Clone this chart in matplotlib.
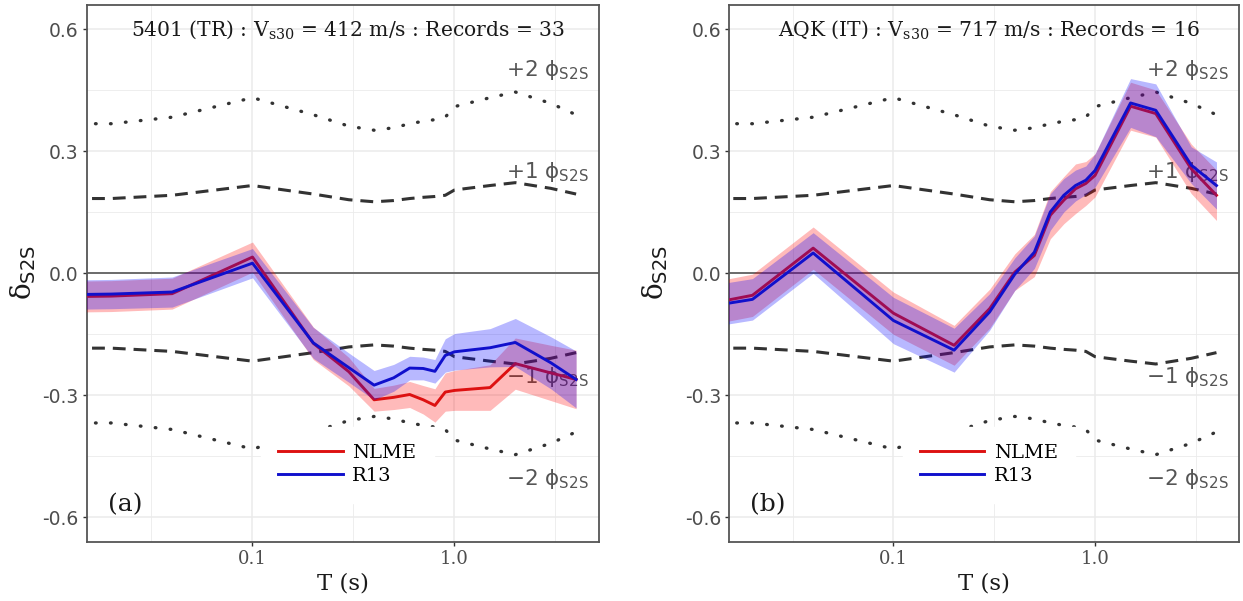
import numpy as np
import matplotlib.pyplot as plt
from matplotlib.ticker import FixedLocator, NullFormatter

# periods (s) and site-to-site standard deviation
periods = [0.01, 0.02, 0.04, 0.1, 0.2, 0.3, 0.4, 0.5, 0.6, 0.7, 0.8, 0.9, 1.0, 1.5, 2.0, 3.0, 4.0]
phi_s2s = [0.184, 0.184, 0.192, 0.216, 0.195, 0.181, 0.176, 0.179, 0.184, 0.187, 0.189, 0.192,
           0.205, 0.216, 0.223, 0.209, 0.195]

# panel (a): station 5401 (TR)
nlme_a = [-0.058, -0.056, -0.050, 0.040, -0.172, -0.242, -0.311, -0.305, -0.298, -0.311, -0.325,
          -0.292, -0.288, -0.281, -0.222, -0.245, -0.261]
nlme_a_se = [0.038, 0.038, 0.038, 0.037, 0.040, 0.035, 0.028, 0.030, 0.032, 0.035, 0.041, 0.047,
             0.049, 0.056, 0.063, 0.068, 0.072]
r13_a = [-0.053, -0.051, -0.046, 0.025, -0.171, -0.232, -0.275, -0.257, -0.233, -0.234, -0.241,
         -0.202, -0.193, -0.183, -0.170, -0.220, -0.261]
r13_a_se = [0.036, 0.036, 0.037, 0.036, 0.038, 0.036, 0.036, 0.033, 0.029, 0.028, 0.029, 0.041,
            0.045, 0.047, 0.059, 0.064, 0.070]

# panel (b): station AQK (IT)
nlme_b = [-0.083, -0.054, 0.062, -0.098, -0.177, -0.087, 0.003, 0.044, 0.143, 0.180, 0.208, 0.221,
          0.241, 0.411, 0.393, 0.257, 0.192]
nlme_b_se = [0.052, 0.052, 0.052, 0.052, 0.049, 0.048, 0.045, 0.052, 0.058, 0.058, 0.061, 0.054,
             0.053, 0.059, 0.058, 0.061, 0.062]
r13_b = [-0.088, -0.064, 0.050, -0.116, -0.189, -0.095, -0.002, 0.052, 0.151, 0.192, 0.216, 0.229,
         0.253, 0.419, 0.401, 0.266, 0.216]
r13_b_se = [0.051, 0.051, 0.050, 0.057, 0.054, 0.045, 0.040, 0.040, 0.045, 0.041, 0.038, 0.035,
            0.041, 0.060, 0.065, 0.045, 0.058]

titles = [r'5401 (TR) : V$_{\mathrm{s30}}$ = 412 m/s : Records = 33',
          r'AQK (IT) : V$_{\mathrm{s30}}$ = 717 m/s : Records = 16']
tags = ['(a)', '(b)']
yticks = [-0.6, -0.3, 0.0, 0.3, 0.6]
ytick_labels = ['-0.6', '-0.3', '0.0', '0.3', '0.6']

T = np.array(periods)
phi = np.array(phi_s2s)

fig = plt.figure(figsize=(12.43, 6.01), dpi=100)
ax_a = fig.add_axes([0.0697, 0.0987, 0.4123, 0.8930])
ax_b = fig.add_axes([0.5867, 0.0987, 0.4099, 0.8930])

GRID = '#ebebeb'
INK = '#333333'
SERIF = 'DejaVu Serif'
SANS = 'DejaVu Sans'


def draw_panel(ax, nlme, nlme_se, r13, r13_se, title, tag, xlim, ylab_x):
    nlme = np.array(nlme); nlme_se = np.array(nlme_se)
    r13 = np.array(r13); r13_se = np.array(r13_se)

    ax.set_xscale('log')
    ax.set_xlim(*xlim)
    ax.set_ylim(-0.66, 0.66)

    # grid
    ax.xaxis.set_major_locator(FixedLocator([0.1, 1.0]))
    ax.xaxis.set_minor_locator(FixedLocator([10**-1.5, 10**-0.5, 10**0.5]))
    ax.xaxis.set_minor_formatter(NullFormatter())
    ax.set_xticklabels(['0.1', '1.0'])
    ax.yaxis.set_major_locator(FixedLocator(yticks))
    ax.yaxis.set_minor_locator(FixedLocator([-0.45, -0.15, 0.15, 0.45]))
    ax.set_yticklabels(ytick_labels)
    ax.grid(which='major', color=GRID, lw=1.1, zorder=0)
    ax.grid(which='minor', color=GRID, lw=0.6, zorder=0)
    ax.set_axisbelow(True)
    ax.tick_params(which='minor', length=0)
    ax.tick_params(which='major', length=3, width=1, color=INK, pad=3)
    for lab in ax.get_xticklabels():
        lab.set_fontfamily(SERIF); lab.set_fontsize(13); lab.set_color('#4d4d4d')
    for lab in ax.get_yticklabels():
        lab.set_fontfamily(SANS); lab.set_fontsize(13.5); lab.set_color('#4d4d4d')
    for sp in ax.spines.values():
        sp.set_color('#555555'); sp.set_linewidth(1.3)

    ax.axhline(0, color='#555555', lw=1.2, zorder=1)

    # +/- 1 and 2 phi_S2S bounds
    for k in (1, -1):
        ax.plot(T, k * phi, color=INK, lw=2.2, dashes=(4.2, 2.6), zorder=2)
        ax.plot(T, 2 * k * phi, color=INK, lw=2.4, dashes=(0.2, 4.3),
                dash_capstyle='round', zorder=2)
    lbl = {2: '+2', 1: '+1', -1: '\u22121', -2: '\u22122'}
    for k, ypos in zip((2, 1, -1, -2), (0.5, 0.25, -0.255, -0.505)):
        ax.text(0.98, ypos, lbl[k] + r' $\mathrm{\phi}_{\mathrm{S2S}}$',
                transform=ax.get_yaxis_transform(),
                ha='right', va='center', fontsize=15.5, color='#555555', family=SANS,
                math_fontfamily='dejavusans', zorder=2)

    # NLME then R13: ribbon + line each
    ax.fill_between(T, nlme - nlme_se, nlme + nlme_se, color='#ff0000', alpha=0.27, lw=0, zorder=3)
    l1, = ax.plot(T, nlme, color='#dd1111', lw=2.1, zorder=3, label='NLME')
    ax.fill_between(T, r13 - r13_se, r13 + r13_se, color='#0000ff', alpha=0.28, lw=0, zorder=3)
    l2, = ax.plot(T, r13, color='#1010cc', lw=2.1, zorder=3, label='R13')

    leg = ax.legend(handles=[l1, l2], loc='center left', bbox_to_anchor=(0.34, 0.1435),
                    prop={'family': SERIF, 'size': 14}, frameon=True, fancybox=False,
                    handlelength=3.3, handletextpad=0.5, labelspacing=0.25, borderpad=0.9,
                    borderaxespad=0)
    leg.get_frame().set_facecolor('white')
    leg.get_frame().set_edgecolor('white')
    leg.get_frame().set_alpha(1)
    leg.set_zorder(5)

    ax.text(0.51, 0.6, title, transform=ax.get_yaxis_transform(), ha='center', va='center',
            fontsize=14.6, family=SERIF, math_fontfamily='dejavuserif', color='#1a1a1a', zorder=6)
    ax.text(0.075, -0.57, tag, transform=ax.get_yaxis_transform(), ha='center', va='center',
            fontsize=18, family=SERIF, color='#1a1a1a', zorder=6)
    ax.text(0.5, -0.077, 'T (s)', transform=ax.transAxes, ha='center', va='center',
            fontsize=16.5, family=SERIF, color='#1a1a1a')
    fig.text(ylab_x, 0.546, r'$\mathrm{\delta}_{\mathsf{S2S}}$', rotation=90, ha='center',
             va='center', fontsize=20, math_fontfamily='dejavuserif', color='#1a1a1a')


draw_panel(ax_a, nlme_a, nlme_a_se, r13_a, r13_a_se, titles[0], tags[0], (0.0151, 5.20), 0.0185)
draw_panel(ax_b, nlme_b, nlme_b_se, r13_b, r13_b_se, titles[1], tags[1], (0.01535, 5.16), 0.527)

fig.savefig('out.png', dpi=100)
